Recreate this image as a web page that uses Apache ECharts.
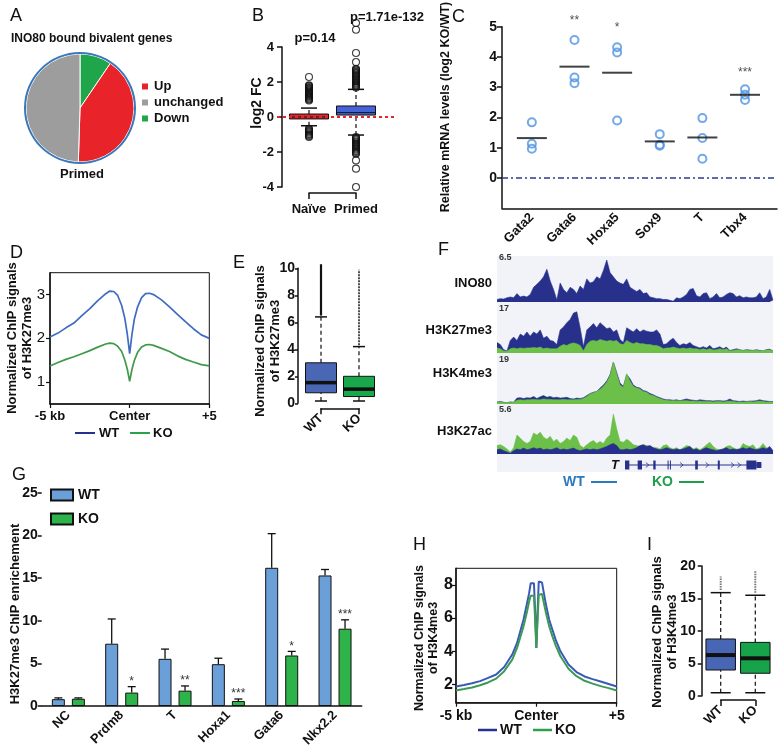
<!DOCTYPE html>
<html><head><meta charset="utf-8">
<script src="https://cdn.jsdelivr.net/npm/echarts@6/dist/echarts.min.js"></script>
<style>html,body{margin:0;padding:0;background:#fff}#c{width:780px;height:753px}</style>
</head><body><div id="c"></div>
<script>
const FF = '"Liberation Sans", Arial, Helvetica, sans-serif';

// ---------- Panel A ----------
const pieNames = ['Down', 'Up', 'unchanged'];
const pieValues = [9.5, 41, 49.5];
const pieColors = ['#1fa64a', '#e8232a', '#9d9d9d'];

// ---------- Panel B ----------
const bCats = ['Naïve', 'Primed'];
const bBox = [[-0.5, -0.11, 0.0, 0.17, 0.51], [-1.03, 0.11, 0.25, 0.63, 1.58]]; // lo,q1,med,q3,hi
const bNaiveOut = [2.29, 1.81, 1.77, 1.71, 1.66, 1.61, 1.55, 1.5, 1.46, 1.4, 1.35, 1.31, 1.25, 1.2, 1.16, 1.1, 1.05, 1.0, 0.95,
  -0.67, -0.72, -0.79, -0.84, -0.9, -0.97, -1.02, -1.08, -1.14];
const bPrimedOut = [5.37, 4.99, 3.66, 3.14, 2.76, 2.7, 2.65, 2.58, 2.52, 2.47, 2.4, 2.34, 2.29, 2.22, 2.16, 2.1, 2.05, 1.98, 1.92, 1.86, 1.8, 1.75, 1.68,
  -1.15, -1.21, -1.27, -1.33, -1.4, -1.45, -1.51, -1.58, -1.63, -1.69, -1.76, -1.81, -1.87, -1.94, -1.99, -2.05, -2.1, -2.48, -2.95, -4.0];
const bPvals = ['p=0.14', 'p=1.71e-132'];

// ---------- Panel C ----------
const cCats = ['Gata2', 'Gata6', 'Hoxa5', 'Sox9', 'T', 'Tbx4'];
const cReps = [[1.84, 1.13, 0.97], [4.56, 3.32, 3.13], [4.32, 4.15, 1.90], [1.45, 1.07, 1.10], [1.98, 1.32, 0.64], [2.93, 2.75, 2.58]];
const cMeans = [1.32, 3.68, 3.48, 1.21, 1.34, 2.75];
const cSig = ['', '**', '*', '', '', '***'];
const cSigY = [0, 5.2, 4.97, 0, 0, 3.48];

// ---------- Panel D ----------
const dX = [-5, -4.5, -4, -3.5, -3, -2.5, -2, -1.5, -1.25, -1, -0.75, -0.5, -0.3, -0.15, 0, 0.15, 0.3, 0.5, 0.75, 1, 1.25, 1.5, 2, 2.5, 3, 3.5, 4, 4.5, 5];
const dWT = [2.03, 2.12, 2.24, 2.35, 2.52, 2.68, 2.86, 3.02, 3.08, 3.07, 2.98, 2.75, 2.45, 2.1, 1.65, 2.1, 2.45, 2.72, 2.93, 3.02, 3.03, 3.0, 2.88, 2.72, 2.55, 2.38, 2.22, 2.08, 2.0];
const dKO = [1.37, 1.45, 1.52, 1.58, 1.65, 1.72, 1.8, 1.87, 1.89, 1.88, 1.82, 1.7, 1.5, 1.3, 1.02, 1.3, 1.5, 1.68, 1.8, 1.85, 1.86, 1.84, 1.77, 1.7, 1.6, 1.52, 1.46, 1.4, 1.37];
const dTickLabels = ['-5 kb', 'Center', '+5'];

// ---------- Panel E ----------
const eCats = ['WT', 'KO'];
const eBox = [[0.17, 0.78, 1.53, 3.0, 6.4], [0.17, 0.5, 1.05, 2.0, 4.2]];
const eOut = [[6.5, 10.3], [4.3, 9.9]];

// ---------- Panel F (signal tracks, fraction of track scale) ----------
const fNames = ['INO80', 'H3K27me3', 'H3K4me3', 'H3K27ac'];
const fScales = ['6.5', '17', '19', '5.6'];
const fINO80 = [0.06,0.08,0.07,0.1,0.12,0.1,0.2,0.12,0.14,0.12,0.18,0.35,0.42,0.5,0.6,0.78,0.5,0.3,0.05,0.45,0.3,0.22,0.35,0.3,0.2,0.38,0.3,0.55,0.45,0.48,0.6,0.55,0.75,1.0,0.7,0.6,0.5,0.45,0.42,0.55,0.35,0.3,0.25,0.3,0.2,0.22,0.12,0.1,0.08,0.08,0.06,0.06,0.04,0.02,0.1,0.08,0.12,0.18,0.3,0.32,0.15,0.12,0.2,0.22,0.08,0.12,0.2,0.1,0.12,0.18,0.22,0.2,0.12,0.15,0.1,0.12,0.1,0.1,0.12,0.22,0.08,0.12,0.3,0.04];
const fK27WT = [0.25,0.2,0.08,0.05,0.3,0.38,0.3,0.45,0.4,0.5,0.4,0.5,0.45,0.55,0.35,0.4,0.3,0.28,0.2,0.55,0.62,0.72,0.8,0.95,0.98,0.6,0.15,0.55,0.62,0.7,0.6,0.72,0.65,0.58,0.6,0.5,0.55,0.32,0.25,0.6,0.55,0.5,0.58,0.5,0.55,0.52,0.5,0.5,0.55,0.45,0.2,0.22,0.3,0.35,0.25,0.18,0.22,0.2,0.25,0.18,0.15,0.12,0.15,0.12,0.18,0.1,0.12,0.15,0.1,0.14,0.06,0.08,0.1,0.08,0.06,0.08,0.07,0.06,0.08,0.06,0.05,0.08,0.09,0.05];
const fK27KO = [0.12,0.1,0.05,0.04,0.1,0.12,0.1,0.12,0.11,0.12,0.12,0.13,0.12,0.14,0.1,0.12,0.1,0.1,0.1,0.16,0.2,0.18,0.22,0.24,0.22,0.18,0.05,0.2,0.28,0.3,0.28,0.32,0.3,0.28,0.3,0.28,0.3,0.22,0.2,0.3,0.25,0.22,0.25,0.22,0.22,0.2,0.2,0.18,0.18,0.15,0.1,0.12,0.12,0.14,0.12,0.1,0.12,0.1,0.12,0.1,0.1,0.08,0.1,0.08,0.1,0.07,0.08,0.1,0.08,0.1,0.05,0.06,0.08,0.07,0.06,0.07,0.06,0.06,0.07,0.05,0.05,0.07,0.07,0.05];
const fK4WT = [0.05,0.06,0.04,0.03,0.05,0.04,0.14,0.15,0.13,0.15,0.14,0.18,0.13,0.17,0.2,0.16,0.18,0.15,0.16,0.14,0.15,0.16,0.13,0.12,0.14,0.13,0.15,0.2,0.25,0.28,0.3,0.38,0.45,0.55,0.7,1.0,0.75,0.5,0.42,0.7,0.6,0.45,0.4,0.38,0.32,0.3,0.25,0.22,0.18,0.15,0.12,0.1,0.1,0.09,0.1,0.08,0.1,0.12,0.1,0.09,0.08,0.1,0.09,0.08,0.08,0.07,0.08,0.08,0.07,0.08,0.12,0.08,0.07,0.06,0.07,0.06,0.07,0.07,0.08,0.1,0.08,0.07,0.06,0.06];
const fK4KO = [0.05,0.05,0.04,0.03,0.04,0.04,0.09,0.1,0.09,0.1,0.1,0.11,0.1,0.1,0.12,0.11,0.11,0.1,0.1,0.1,0.11,0.1,0.1,0.1,0.11,0.11,0.13,0.18,0.24,0.27,0.3,0.35,0.42,0.52,0.68,1.0,0.72,0.45,0.4,0.72,0.55,0.42,0.38,0.36,0.3,0.28,0.22,0.2,0.16,0.13,0.1,0.09,0.08,0.08,0.08,0.07,0.08,0.08,0.07,0.07,0.06,0.07,0.06,0.06,0.06,0.05,0.06,0.06,0.05,0.06,0.07,0.06,0.05,0.05,0.05,0.05,0.06,0.05,0.06,0.07,0.06,0.05,0.05,0.05];
const fAcKO = [0.2,0.22,0.18,0.12,0.05,0.15,0.45,0.38,0.3,0.25,0.3,0.5,0.45,0.52,0.4,0.35,0.42,0.3,0.35,0.25,0.3,0.38,0.32,0.45,0.4,0.2,0.15,0.22,0.28,0.32,0.25,0.3,0.25,0.38,0.45,0.95,0.6,0.3,0.28,0.35,0.3,0.22,0.2,0.18,0.22,0.2,0.18,0.15,0.15,0.12,0.2,0.22,0.15,0.12,0.15,0.1,0.15,0.2,0.18,0.12,0.15,0.1,0.15,0.22,0.28,0.18,0.12,0.1,0.12,0.18,0.2,0.15,0.12,0.12,0.25,0.2,0.18,0.22,0.12,0.15,0.25,0.15,0.1,0.08];
const fAcWT = [0.1,0.12,0.08,0.05,0.02,0.08,0.12,0.1,0.14,0.1,0.12,0.15,0.12,0.14,0.1,0.12,0.1,0.12,0.15,0.1,0.12,0.1,0.12,0.14,0.1,0.08,0.1,0.12,0.1,0.12,0.1,0.12,0.15,0.18,0.22,0.25,0.2,0.1,0.1,0.12,0.1,0.12,0.15,0.2,0.22,0.18,0.2,0.15,0.12,0.1,0.12,0.15,0.12,0.1,0.12,0.1,0.12,0.15,0.18,0.1,0.12,0.08,0.12,0.15,0.12,0.1,0.08,0.1,0.12,0.15,0.1,0.12,0.1,0.12,0.15,0.12,0.15,0.12,0.1,0.12,0.15,0.12,0.18,0.08];
const geneSpan = [38.5, 79.5];
const geneExons = [[38.5, 39.8, 9], [42.3, 43.6, 9], [47.0, 47.7, 9], [51.3, 51.55, 9], [52.0, 52.25, 9], [59.6, 60.4, 9], [66.4, 67.0, 9], [75.0, 78.0, 9], [78.0, 79.5, 6]];
const geneArrows = [45.2, 55.5, 63.2, 70.8, 72.8];

// ---------- Panel G ----------
const gCats = ['NC', 'Prdm8', 'T', 'Hoxa1', 'Gata6', 'Nkx2.2'];
const gWT = [0.8, 7.3, 5.53, 4.9, 16.2, 15.3];
const gWTerr = [0.95, 10.2, 6.67, 5.6, 20.2, 16.0];
const gKO = [0.85, 1.57, 1.8, 0.59, 5.92, 9.06];
const gKOerr = [0.95, 2.27, 2.35, 0.82, 6.4, 10.1];
const gSig = ['', '*', '**', '***', '*', '***'];

// ---------- Panel H ----------
const hX = [-5, -4.5, -4, -3.5, -3, -2.5, -2, -1.5, -1.2, -1, -0.8, -0.6, -0.45, -0.35, -0.25, -0.15, -0.08, 0, 0.08, 0.15, 0.25, 0.35, 0.45, 0.6, 0.8, 1, 1.2, 1.5, 2, 2.5, 3, 3.5, 4, 4.5, 5];
const hWT = [1.88, 1.97, 2.07, 2.2, 2.4, 2.6, 3.05, 3.8, 4.5, 5.2, 5.9, 6.8, 7.5, 8.1, 8.1, 8.1, 6.5, 4.2, 6.5, 8.2, 8.2, 8.15, 7.6, 6.8, 5.9, 5.3, 4.7, 4.0, 3.2, 2.75, 2.48, 2.32, 2.18, 2.03, 1.88];
const hKO = [1.64, 1.72, 1.82, 1.95, 2.12, 2.35, 2.8, 3.5, 4.2, 4.85, 5.5, 6.3, 7.0, 7.35, 7.4, 7.35, 6.0, 4.2, 6.0, 7.4, 7.5, 7.45, 7.0, 6.3, 5.5, 4.9, 4.35, 3.7, 2.95, 2.5, 2.22, 2.05, 1.9, 1.78, 1.64];

// ---------- Panel I ----------
const iCats = ['WT', 'KO'];
const iBox = [[0.5, 4.0, 6.3, 8.77, 15.9], [0.5, 3.5, 5.8, 8.25, 15.5]];
const iOut = [[16.3, 18.4], [15.9, 19.3]];

// ================= build option =================
const grids = [], xAxes = [], yAxes = [], series = [], graphic = [];
const AX = { onZero: false, lineStyle: { color: '#111', width: 1.5 } };
function lbl(size, weight, margin) { const o = { color: '#111', fontFamily: FF, fontSize: size, fontWeight: weight || 'bold' }; if (margin != null) o.margin = margin; return o; }
function tick(len, w) { return { show: true, length: len, lineStyle: { color: '#111', width: w || 1.5 } }; }
function addGrid(g, x, y) {
  grids.push(Object.assign({ containLabel: false }, g));
  const gi = grids.length - 1;
  x.gridIndex = gi; y.gridIndex = gi;
  xAxes.push(x); yAxes.push(y);
  return { xi: xAxes.length - 1, yi: yAxes.length - 1 };
}
function T(text, x, y, o) {
  o = o || {};
  return { type: 'text', x: x, y: y, rotation: o.rot || 0, z: 100, silent: true,
    style: { text: text, font: (o.w || 'bold') + ' ' + (o.s || 13) + 'px ' + FF, fill: o.c || '#111', align: o.a || 'left', verticalAlign: o.v || 'middle' } };
}
function L(x1, y1, x2, y2, c, w) {
  return { type: 'line', z: 100, silent: true, shape: { x1: x1, y1: y1, x2: x2, y2: y2 }, style: { stroke: c, lineWidth: w } };
}
const hidden = { show: false };

function boxSeries(ax, boxes, cfg) {
  return {
    type: 'custom', name: cfg.name, xAxisIndex: ax.xi, yAxisIndex: ax.yi, clip: false, silent: true, z: 3,
    data: boxes.map((b, i) => [i].concat(b)),
    renderItem: function (params, api) {
      const x = api.value(0);
      const lo = api.coord([x, api.value(1)]), q1 = api.coord([x, api.value(2)]), md = api.coord([x, api.value(3)]),
        q3 = api.coord([x, api.value(4)]), hi = api.coord([x, api.value(5)]);
      const cx = lo[0], hw = cfg.boxW / 2, cw = cfg.capW / 2;
      const dash = { stroke: '#111', lineWidth: 1.2, lineDash: [4, 3] };
      return { type: 'group', children: [
        { type: 'line', shape: { x1: cx, y1: q3[1], x2: cx, y2: hi[1] }, style: dash },
        { type: 'line', shape: { x1: cx, y1: lo[1], x2: cx, y2: q1[1] }, style: dash },
        { type: 'line', shape: { x1: cx - cw, y1: hi[1], x2: cx + cw, y2: hi[1] }, style: { stroke: '#111', lineWidth: 1.5 } },
        { type: 'line', shape: { x1: cx - cw, y1: lo[1], x2: cx + cw, y2: lo[1] }, style: { stroke: '#111', lineWidth: 1.5 } },
        { type: 'rect', shape: { x: cx - hw, y: q3[1], width: cfg.boxW, height: q1[1] - q3[1] }, style: { fill: cfg.colors[params.dataIndex], stroke: '#111', lineWidth: 1 } },
        { type: 'line', shape: { x1: cx - hw, y1: md[1], x2: cx + hw, y2: md[1] }, style: { stroke: '#111', lineWidth: cfg.medW } }
      ] };
    }
  };
}
function spanSeries(ax, spans, styles) {
  return {
    type: 'custom', xAxisIndex: ax.xi, yAxisIndex: ax.yi, clip: false, silent: true, z: 3,
    data: spans.map((s, i) => [i, s[0], s[1]]),
    renderItem: function (params, api) {
      const a = api.coord([api.value(0), api.value(1)]), b = api.coord([api.value(0), api.value(2)]);
      return { type: 'line', shape: { x1: a[0], y1: a[1], x2: b[0], y2: b[1] }, style: styles[params.dataIndex] };
    }
  };
}
function bracketX(off, cats, rot, margin) {
  return { type: 'value', min: 0, max: 1, offset: off, axisLine: AX, splitLine: hidden,
    axisTick: { show: true, customValues: [0, 1], length: 6, lineStyle: { color: '#111', width: 1.5 } },
    axisLabel: Object.assign(lbl(13, 'bold', margin), { customValues: [0, 1], formatter: v => cats[Math.round(v)], rotate: rot }) };
}

// ---- A ----
series.push({ type: 'pie', name: 'pieA', center: [80, 108], radius: 54, startAngle: 90, clockwise: true, silent: true,
  label: { show: false }, labelLine: { show: false },
  itemStyle: { borderColor: '#fff', borderWidth: 1 },
  data: pieNames.map((n, i) => ({ name: n, value: pieValues[i], itemStyle: { color: pieColors[i] } })) });
series.push({ type: 'pie', name: 'pieRing', center: [80, 108], radius: [54, 56], silent: true,
  label: { show: false }, labelLine: { show: false }, data: [{ name: 'ring', value: 1, itemStyle: { color: '#3b77b9' } }] });

// ---- B ----
const axB = addGrid({ left: 309, top: 47, width: 47, height: 140 },
  bracketX(6, bCats, 0, 10),
  { type: 'value', min: -4, max: 4, interval: 2, offset: 27, axisLine: AX, axisTick: tick(5), axisLabel: lbl(13, 'bold', 8), splitLine: hidden });
series.push(boxSeries(axB, bBox, { name: 'boxB', boxW: 39, capW: 16, medW: 1, colors: ['#e3262c', '#4562d6'] }));
series.push({ type: 'scatter', name: 'outB', xAxisIndex: axB.xi, yAxisIndex: axB.yi, clip: false, silent: true, z: 4,
  symbol: 'circle', symbolSize: 7, itemStyle: { color: 'rgba(0,0,0,0)', borderColor: '#111', borderWidth: 1.1 },
  data: bNaiveOut.map(v => [0, v]).concat(bPrimedOut.map(v => [1, v])) });
const axB2 = addGrid({ left: 277, top: 47, width: 120, height: 140 },
  { type: 'value', min: 0, max: 1, show: false }, { type: 'value', min: -4, max: 4, show: false });
series.push({ type: 'line', name: 'zeroB', xAxisIndex: axB2.xi, yAxisIndex: axB2.yi, data: [], silent: true, z: 6,
  markLine: { silent: true, symbol: 'none', label: { show: false }, data: [{ yAxis: 0 }], lineStyle: { color: '#e3262c', type: [3, 3], width: 2 } } });

// ---- C ----
const axC = addGrid({ left: 502, top: 26.7, width: 275, height: 181.6 },
  { type: 'value', min: 0.3, max: 6.75, axisLine: AX, axisTick: { show: false }, splitLine: hidden,
    axisLabel: Object.assign(lbl(13, 'bold', 7), { customValues: [1, 2, 3, 4, 5, 6], formatter: v => cCats[Math.round(v) - 1], rotate: 45 }) },
  { type: 'value', min: -1, max: 5, interval: 1, axisLine: AX, splitLine: hidden,
    axisTick: Object.assign(tick(5), { customValues: [0, 1, 2, 3, 4, 5] }),
    axisLabel: Object.assign(lbl(14, 'bold', 5), { customValues: [0, 1, 2, 3, 4, 5] }) });
const cPts = [];
cReps.forEach((r, i) => r.forEach(v => cPts.push([i + 1, v])));
series.push({ type: 'scatter', name: 'ptsC', xAxisIndex: axC.xi, yAxisIndex: axC.yi, silent: true, z: 4,
  symbol: 'circle', symbolSize: 8, itemStyle: { color: 'rgba(0,0,0,0)', borderColor: '#4f93e0', borderWidth: 2 }, data: cPts,
  markLine: { silent: true, symbol: 'none', label: { show: false }, data: [{ yAxis: 0 }], lineStyle: { color: '#2d3b8e', type: [6, 3, 2, 3], width: 1.5 } } });
series.push({ type: 'scatter', name: 'meanC', xAxisIndex: axC.xi, yAxisIndex: axC.yi, silent: true, z: 5,
  symbol: 'rect', symbolSize: [30, 2], itemStyle: { color: '#111' }, data: cMeans.map((m, i) => [i + 1, m]) });
series.push({ type: 'scatter', name: 'sigC', xAxisIndex: axC.xi, yAxisIndex: axC.yi, silent: true, z: 5, clip: false,
  symbolSize: 0, data: cSigY.map((y, i) => [i + 1, y]).filter((d, i) => cSig[i]),
  label: { show: true, position: 'inside', color: '#222', fontSize: 12, fontFamily: FF, formatter: p => cSig[Math.round(p.value[0]) - 1] } });

// ---- D ----
const axD = addGrid({ left: 50, top: 272.7, width: 159.3, height: 131.3, show: true, borderColor: '#111', borderWidth: 1 },
  { type: 'value', min: -5, max: 5, axisLine: AX, splitLine: hidden,
    axisTick: Object.assign(tick(4, 1.2), { customValues: [-5, 0, 5] }),
    axisLabel: Object.assign(lbl(13, 'bold', 6), { customValues: [-5, 0, 5], formatter: v => dTickLabels[Math.round(v / 5) + 1] }) },
  { type: 'value', min: 0.5, max: 3.5, axisLine: AX, splitLine: hidden,
    axisTick: Object.assign(tick(4, 1.2), { customValues: [1, 2, 3] }),
    axisLabel: Object.assign(lbl(15, 'normal', 5), { customValues: [1, 2, 3] }) });
series.push({ type: 'line', name: 'dWT', xAxisIndex: axD.xi, yAxisIndex: axD.yi, silent: true, showSymbol: false, symbol: 'none',
  lineStyle: { color: '#3f6cc2', width: 1.7 }, data: dX.map((x, i) => [x, dWT[i]]) });
series.push({ type: 'line', name: 'dKO', xAxisIndex: axD.xi, yAxisIndex: axD.yi, silent: true, showSymbol: false, symbol: 'none',
  lineStyle: { color: '#3f9a4a', width: 1.7 }, data: dX.map((x, i) => [x, dKO[i]]) });

// ---- E ----
const axE = addGrid({ left: 321, top: 268.3, width: 38, height: 135 },
  bracketX(5, eCats, 45, 8),
  { type: 'value', min: 0, max: 10, interval: 2, offset: 23, axisLine: AX, splitLine: hidden, axisTick: tick(3), axisLabel: lbl(14, 'bold', 3) });
series.push(spanSeries(axE, eOut, [{ stroke: '#111', lineWidth: 2.2 }, { stroke: '#222', lineWidth: 1.6, lineDash: [2, 1] }]));
series.push(boxSeries(axE, eBox, { name: 'boxE', boxW: 31, capW: 12, medW: 3.5, colors: ['#4a67b5', '#1aa84c'] }));

// ---- F ----
graphic.push({ type: 'rect', z: 0, silent: true, shape: { x: 497, y: 256, width: 276, height: 216 }, style: { fill: '#f1f3f8' } });
const fTops = [260, 311, 362, 412];
const fTracks = [
  [{ d: fINO80, c: '#27318c' }],
  [{ d: fK27WT, c: '#27318c' }, { d: fK27KO, c: '#6cc04a' }],
  [{ d: fK4WT, c: '#27318c' }, { d: fK4KO, c: '#6cc04a' }],
  [{ d: fAcKO, c: '#6cc04a' }, { d: fAcWT, c: '#27318c' }]
];
fTracks.forEach((layers, t) => {
  const ax = addGrid({ left: 497, top: fTops[t], width: 276, height: 42 },
    { type: 'value', min: 0, max: 83, show: false }, { type: 'value', min: 0, max: 1, show: false });
  layers.forEach((ly, k) => {
    series.push({ type: 'line', name: 'trk' + t + '_' + k, xAxisIndex: ax.xi, yAxisIndex: ax.yi, silent: true, z: 2 + k,
      symbol: 'none', showSymbol: false, lineStyle: { color: ly.c, width: 0.6 }, areaStyle: { color: ly.c, opacity: 1 },
      data: ly.d.map((v, i) => [i, v]) });
  });
  graphic.push(T(fNames[t], 492, [283, 330, 373, 431][t], { a: 'right', s: 13 }));
  graphic.push(T(fScales[t], 499, fTops[t] - 2, { s: 9, w: 'bold', c: '#333' }));
});
const axGene = addGrid({ left: 497, top: 458, width: 276, height: 14 },
  { type: 'value', min: 0, max: 83, show: false }, { type: 'value', min: 0, max: 1, show: false });
series.push({ type: 'line', name: 'geneLine', xAxisIndex: axGene.xi, yAxisIndex: axGene.yi, silent: true, symbol: 'none',
  lineStyle: { color: '#27318c', width: 1 }, data: geneSpan.map(x => [x, 0.5]) });
series.push({ type: 'custom', name: 'geneExons', xAxisIndex: axGene.xi, yAxisIndex: axGene.yi, silent: true, z: 4,
  data: geneExons,
  renderItem: function (params, api) {
    const a = api.coord([api.value(0), 0.5]), b = api.coord([api.value(1), 0.5]), h = api.value(2);
    return { type: 'rect', shape: { x: a[0], y: a[1] - h / 2, width: Math.max(1, b[0] - a[0]), height: h }, style: { fill: '#27318c' } };
  } });
series.push({ type: 'custom', name: 'geneArrows', xAxisIndex: axGene.xi, yAxisIndex: axGene.yi, silent: true, z: 4,
  data: geneArrows.map(x => [x, 0.5]),
  renderItem: function (params, api) {
    const p = api.coord([api.value(0), api.value(1)]);
    return { type: 'polyline', shape: { points: [[p[0] - 1.5, p[1] - 2.5], [p[0] + 1.5, p[1]], [p[0] - 1.5, p[1] + 2.5]] }, style: { stroke: '#27318c', fill: null, lineWidth: 0.8 } };
  } });

// ---- G ----
const axG = addGrid({ left: 41.7, top: 492.7, width: 320, height: 213.3 },
  { type: 'category', data: gCats, axisLine: AX, axisTick: { show: false },
    axisLabel: Object.assign(lbl(13, 'bold', 7), { rotate: 45, interval: 0 }) },
  { type: 'value', min: 0, max: 25, interval: 5, axisLine: AX, splitLine: hidden, axisTick: tick(4), axisLabel: lbl(14, 'bold', 4) });
series.push({ type: 'bar', name: 'WT', xAxisIndex: axG.xi, yAxisIndex: axG.yi, silent: true, barWidth: 13, barGap: '54%',
  itemStyle: { color: '#6a9fd8', borderColor: '#111', borderWidth: 1 }, data: gWT });
series.push({ type: 'bar', name: 'KO', xAxisIndex: axG.xi, yAxisIndex: axG.yi, silent: true, barWidth: 13, barGap: '54%',
  itemStyle: { color: '#2db34a', borderColor: '#111', borderWidth: 1 }, data: gKO });
function errSeries(vals, errs, side, sig) {
  return { type: 'custom', name: 'err' + side, xAxisIndex: axG.xi, yAxisIndex: axG.yi, silent: true, z: 1, clip: false,
    data: vals.map((v, i) => [i, v, errs[i]]),
    renderItem: function (params, api) {
      const i = api.value(0);
      const a = api.coord([i, api.value(1)]), b = api.coord([i, api.value(2)]);
      const bw = api.size([1, 0])[0];
      const x = a[0] + side * bw * 0.1875;
      const ch = [
        { type: 'line', shape: { x1: x, y1: a[1], x2: x, y2: b[1] }, style: { stroke: '#111', lineWidth: 1.3 } },
        { type: 'line', shape: { x1: x - 4, y1: b[1], x2: x + 4, y2: b[1] }, style: { stroke: '#111', lineWidth: 1.3 } }
      ];
      if (sig && sig[i]) ch.push({ type: 'text', x: x, y: b[1] + 1, style: { text: sig[i], font: '12px ' + FF, fill: '#333', align: 'center', verticalAlign: 'bottom' } });
      return { type: 'group', children: ch };
    } };
}
series.push(errSeries(gWT, gWTerr, -1, null));
series.push(errSeries(gKO, gKOerr, 1, gSig));

// ---- H ----
const axH = addGrid({ left: 456, top: 568.3, width: 160.7, height: 134.4, show: true, borderColor: '#111', borderWidth: 1 },
  { type: 'value', min: -5, max: 5, axisLine: AX, splitLine: hidden,
    axisTick: Object.assign(tick(4, 1.2), { customValues: [-5, 0, 5] }),
    axisLabel: Object.assign(lbl(14, 'bold', 6), { customValues: [-5, 0, 5], formatter: v => dTickLabels[Math.round(v / 5) + 1] }) },
  { type: 'value', min: 0.9, max: 9, axisLine: AX, splitLine: hidden,
    axisTick: Object.assign(tick(4, 1.2), { customValues: [2, 4, 6, 8] }),
    axisLabel: Object.assign(lbl(16, 'bold', 3), { customValues: [2, 4, 6, 8] }) });
series.push({ type: 'line', name: 'hWT', xAxisIndex: axH.xi, yAxisIndex: axH.yi, silent: true, symbol: 'none', showSymbol: false,
  lineStyle: { color: '#3a5bb5', width: 2 }, data: hX.map((x, i) => [x, hWT[i]]) });
series.push({ type: 'line', name: 'hKO', xAxisIndex: axH.xi, yAxisIndex: axH.yi, silent: true, symbol: 'none', showSymbol: false,
  lineStyle: { color: '#3d9a55', width: 2 }, data: hX.map((x, i) => [x, hKO[i]]) });

// ---- I ----
const axI = addGrid({ left: 720.7, top: 566, width: 34.6, height: 130 },
  bracketX(4, iCats, 45, 8),
  { type: 'value', min: 0, max: 20, interval: 5, offset: 19, axisLine: AX, splitLine: hidden, axisTick: tick(4), axisLabel: lbl(14, 'bold', 6) });
series.push(spanSeries(axI, iOut, [{ stroke: '#777', lineWidth: 2, lineDash: [1.5, 1] }, { stroke: '#777', lineWidth: 2, lineDash: [1.5, 1] }]));
series.push(boxSeries(axI, iBox, { name: 'boxI', boxW: 29.5, capW: 20, medW: 4, colors: ['#4766b4', '#17a34a'] }));

// ---- texts ----
[['A', 10, 16], ['B', 252, 16], ['C', 452, 17], ['D', 10, 253], ['E', 233, 263], ['F', 438, 250], ['G', 12, 475], ['H', 413, 545], ['I', 647, 545]]
  .forEach(p => graphic.push(T(p[0], p[1], p[2], { s: 18, w: 'normal' })));
graphic.push(T('INO80 bound bivalent genes', 11, 39, { s: 12 }));
graphic.push(T('Primed', 82, 174, { s: 13, a: 'center' }));
graphic.push(T(bPvals[0], 315, 38, { s: 13, a: 'center' }));
graphic.push(T(bPvals[1], 387, 17, { s: 13, a: 'center' }));
graphic.push(T('log2 FC', 257, 103, { s: 14, a: 'center', rot: Math.PI / 2 }));
graphic.push(T('Relative mRNA levels (log2 KO/WT)', 446, 107, { s: 12.5, a: 'center', rot: Math.PI / 2 }));
graphic.push(T('Normalized ChIP signals', 12, 338, { s: 13, a: 'center', rot: Math.PI / 2 }));
graphic.push(T('of H3K27me3', 27, 338, { s: 13, a: 'center', rot: Math.PI / 2 }));
graphic.push(T('Normalized ChIP signals', 260, 341, { s: 13, a: 'center', rot: Math.PI / 2 }));
graphic.push(T('of H3K27me3', 275, 341, { s: 13, a: 'center', rot: Math.PI / 2 }));
graphic.push(T('H3K27me3 ChIP enrichement', 15, 614, { s: 13, a: 'center', rot: Math.PI / 2 }));
graphic.push(T('Normalized ChIP signals', 420, 638, { s: 12.5, a: 'center', rot: Math.PI / 2 }));
graphic.push(T('of H3K4me3', 434, 638, { s: 12.5, a: 'center', rot: Math.PI / 2 }));
graphic.push(T('Normalized ChIP signals', 657, 632, { s: 13, a: 'center', rot: Math.PI / 2 }));
graphic.push(T('of H3K4me3', 672, 632, { s: 13, a: 'center', rot: Math.PI / 2 }));
// D legend
graphic.push(L(75, 433, 95, 433, '#25308f', 2)); graphic.push(T('WT', 99, 433, { s: 13 }));
graphic.push(L(130, 433, 150, 433, '#2aa14a', 2)); graphic.push(T('KO', 153, 433, { s: 13 }));
// H legend
graphic.push(L(478, 730, 497, 730, '#25308f', 2.5)); graphic.push(T('WT', 500, 730, { s: 14 }));
graphic.push(L(533, 730, 552, 730, '#2aa14a', 2.5)); graphic.push(T('KO', 555, 730, { s: 14 }));
// F gene + legend
graphic.push(T('T', 615, 465, { s: 13, w: 'italic bold', a: 'center' }));
graphic.push(T('WT', 563, 482, { s: 14, c: '#2a7ac0' })); graphic.push(L(591, 482, 617, 482, '#2a7ac0', 2));
graphic.push(T('KO', 652, 482, { s: 14, c: '#1f9e4a' })); graphic.push(L(679, 482, 704, 482, '#1f9e4a', 2));

const option = {
  animation: false,
  backgroundColor: '#fff',
  textStyle: { fontFamily: FF },
  grid: grids, xAxis: xAxes, yAxis: yAxes, series: series, graphic: graphic,
  legend: [
    { data: ['Up', 'unchanged', 'Down'], orient: 'vertical', left: 140, top: 80, itemWidth: 8, itemHeight: 8, itemGap: 3, icon: 'rect',
      selectedMode: false, padding: 0, textStyle: { fontFamily: FF, fontWeight: 'bold', fontSize: 13, color: '#111' } },
    { data: ['WT', 'KO'], orient: 'vertical', left: 50, top: 488, itemWidth: 22, itemHeight: 11, itemGap: 10, icon: 'rect',
      selectedMode: false, padding: 0, textStyle: { fontFamily: FF, fontWeight: 'bold', fontSize: 14, color: '#111' } }
  ]
};
const chart = echarts.init(document.getElementById('c'), null, { renderer: 'canvas' });
chart.setOption(option);
</script></body></html>
